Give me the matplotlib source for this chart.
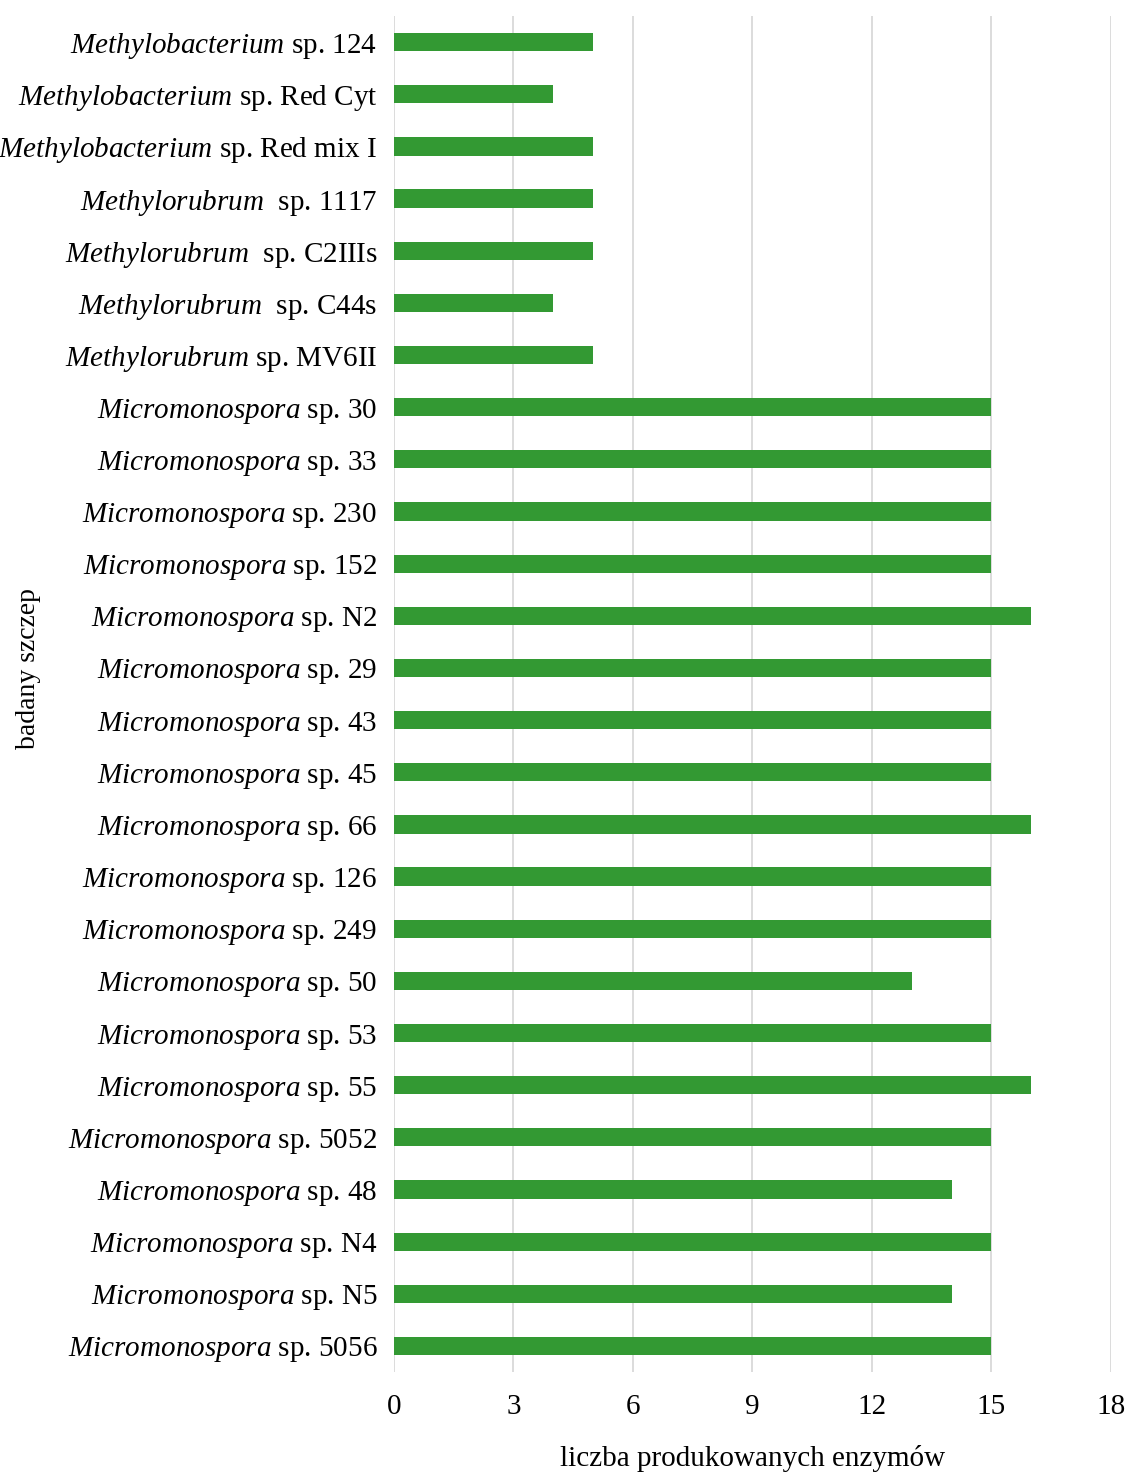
import matplotlib
matplotlib.use("Agg")
import matplotlib.pyplot as plt

genus = ["Methylobacterium", "Methylobacterium", "Methylobacterium",
         "Methylorubrum", "Methylorubrum", "Methylorubrum", "Methylorubrum",
         "Micromonospora", "Micromonospora", "Micromonospora", "Micromonospora",
         "Micromonospora", "Micromonospora", "Micromonospora", "Micromonospora",
         "Micromonospora", "Micromonospora", "Micromonospora", "Micromonospora",
         "Micromonospora", "Micromonospora", "Micromonospora", "Micromonospora",
         "Micromonospora", "Micromonospora", "Micromonospora"]
strain = ["sp. 124", "sp. Red Cyt", "sp. Red mix I", " sp. 1117", " sp. C2IIIs",
          " sp. C44s", "sp. MV6II", "sp. 30", "sp. 33", "sp. 230", "sp. 152",
          "sp. N2", "sp. 29", "sp. 43", "sp. 45", "sp. 66", "sp. 126", "sp. 249",
          "sp. 50", "sp. 53", "sp. 55", "sp. 5052", "sp. 48", "sp. N4", "sp. N5",
          "sp. 5056"]
values = [5, 4, 5, 5, 5, 4, 5, 15, 15, 15, 15, 16, 15, 15, 15, 16, 15, 15,
          13, 15, 16, 15, 14, 15, 14, 15]
xticks = [0, 3, 6, 9, 12, 15, 18]

plt.rcParams['font.family'] = ['Liberation Serif', 'DejaVu Serif']
plt.rcParams['mathtext.fontset'] = 'custom'
plt.rcParams['mathtext.rm'] = 'Liberation Serif'
plt.rcParams['mathtext.it'] = 'Liberation Serif:italic'

labels = [r"$\mathit{%s}$ %s" % (g, s) for g, s in zip(genus, strain)]

fig = plt.figure(figsize=(11.27, 14.72), dpi=100)
ax = fig.add_axes([0.3496, 0.0679, 0.6362, 0.9212])

y = list(range(len(values)))
ax.barh(y, values, height=0.35, color="#339933", zorder=3)
ax.set_ylim(len(values) - 0.5, -0.5)
ax.set_xlim(0, 18)
ax.set_yticks(y)
ax.set_yticklabels(labels, fontsize=21)
ax.set_xticks(xticks)
ax.set_xticklabels([str(t) for t in xticks], fontsize=21)
ax.tick_params(axis='both', length=0)
ax.tick_params(axis='x', pad=16)
ax.tick_params(axis='y', pad=12)
ax.grid(axis='x', color='#d9d9d9', linewidth=1.3, zorder=0)
for s in ax.spines.values():
    s.set_visible(False)

ax.set_xlabel("liczba produkowanych enzymów", fontsize=21, labelpad=18)
fig.text(0.025, 0.546, "badany szczep", rotation=90, fontsize=20,
         ha='center', va='center')

fig.savefig("out.png", dpi=100)
